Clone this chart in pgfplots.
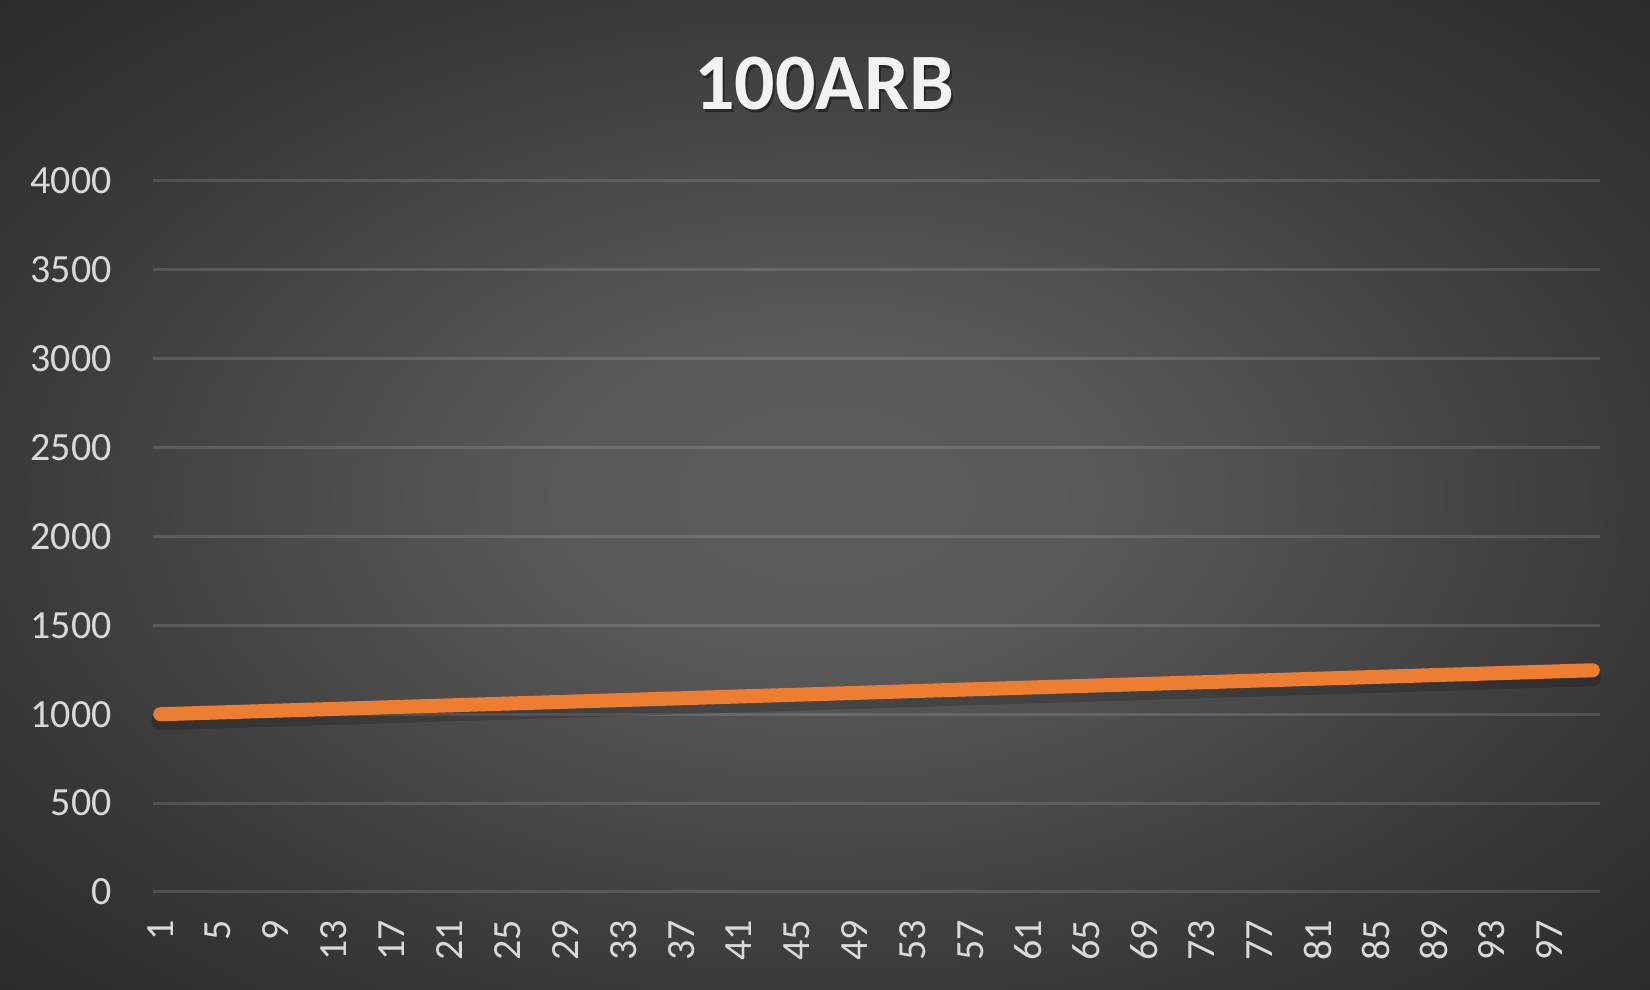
\documentclass[border=0pt]{standalone}
\usepackage{fontspec}
\setmainfont{Carlito}
\usepackage{pgfplots}
\usepackage{pgfplotstable}
\pgfplotsset{compat=1.18}

\definecolor{bgmid}{RGB}{92,92,92}
\definecolor{bgedge}{RGB}{58,58,58}
\definecolor{bgcorner}{RGB}{42,42,42}
\definecolor{lbl}{RGB}{217,217,217}
\definecolor{ttl}{RGB}{242,242,242}
\definecolor{arb}{RGB}{237,125,49}

\pgfdeclareradialshading{chartbg}{\pgfpoint{0bp}{0bp}}{color(0bp)=(bgmid); color(8bp)=(bgmid!92!bgedge); color(25bp)=(bgedge); color(36bp)=(bgcorner); color(50bp)=(bgcorner)}

% day, value
\pgfplotstableread[row sep=\\]{
x y \\
1 1000 \\ 2 1002.5 \\ 3 1005 \\ 4 1007.5 \\ 5 1010 \\ 6 1012.5 \\ 7 1015 \\ 8 1017.5 \\ 9 1020 \\ 10 1022.5 \\
11 1025 \\ 12 1027.5 \\ 13 1030 \\ 14 1032.5 \\ 15 1035 \\ 16 1037.5 \\ 17 1040 \\ 18 1042.5 \\ 19 1045 \\ 20 1047.5 \\
21 1050 \\ 22 1052.5 \\ 23 1055 \\ 24 1057.5 \\ 25 1060 \\ 26 1062.5 \\ 27 1065 \\ 28 1067.5 \\ 29 1070 \\ 30 1072.5 \\
31 1075 \\ 32 1077.5 \\ 33 1080 \\ 34 1082.5 \\ 35 1085 \\ 36 1087.5 \\ 37 1090 \\ 38 1092.5 \\ 39 1095 \\ 40 1097.5 \\
41 1100 \\ 42 1102.5 \\ 43 1105 \\ 44 1107.5 \\ 45 1110 \\ 46 1112.5 \\ 47 1115 \\ 48 1117.5 \\ 49 1120 \\ 50 1122.5 \\
51 1125 \\ 52 1127.5 \\ 53 1130 \\ 54 1132.5 \\ 55 1135 \\ 56 1137.5 \\ 57 1140 \\ 58 1142.5 \\ 59 1145 \\ 60 1147.5 \\
61 1150 \\ 62 1152.5 \\ 63 1155 \\ 64 1157.5 \\ 65 1160 \\ 66 1162.5 \\ 67 1165 \\ 68 1167.5 \\ 69 1170 \\ 70 1172.5 \\
71 1175 \\ 72 1177.5 \\ 73 1180 \\ 74 1182.5 \\ 75 1185 \\ 76 1187.5 \\ 77 1190 \\ 78 1192.5 \\ 79 1195 \\ 80 1197.5 \\
81 1200 \\ 82 1202.5 \\ 83 1205 \\ 84 1207.5 \\ 85 1210 \\ 86 1212.5 \\ 87 1215 \\ 88 1217.5 \\ 89 1220 \\ 90 1222.5 \\
91 1225 \\ 92 1227.5 \\ 93 1230 \\ 94 1232.5 \\ 95 1235 \\ 96 1237.5 \\ 97 1240 \\ 98 1242.5 \\ 99 1245 \\ 100 1247.5 \\
}\arbdata

\begin{document}
\begin{tikzpicture}
\shade[shading=chartbg] (0,0) rectangle (825bp,495bp);
\useasboundingbox (0,0) rectangle (825bp,495bp);

% title with a soft shadow
\node[anchor=base, inner sep=0pt, text=black, opacity=0.4,
      font=\fontsize{40bp}{48bp}\selectfont\bfseries] at (413bp,438.8bp) {100ARB};
\node[anchor=base, inner sep=0pt, text=ttl,
      font=\fontsize{40bp}{48bp}\selectfont\bfseries] at (412bp,440bp) {100ARB};

\begin{axis}[
    at={(76.5bp,49bp)}, anchor=south west,
    scale only axis,
    width=723.5bp, height=355.5bp,
    xmin=0.5, xmax=100.5,
    ymin=0, ymax=4000,
    ytick={0,500,...,4000},
    xtick={1,5,...,97},
    ymajorgrids,
    major grid style={white, opacity=0.13, line width=1.5bp},
    axis line style={draw=none},
    major tick length=0pt,
    tick label style={font=\fontsize{20bp}{24bp}\selectfont, text=lbl,
        /pgf/number format/assume math mode=true},
    /pgf/number format/1000 sep={},
    yticklabel style={anchor=east, inner sep=0pt, xshift=-20.5bp},
    xticklabel style={yshift=-14bp, rotate=90, anchor=east, inner sep=0pt},
    clip=false,
]
\addplot[black, opacity=0.18, line width=9bp, line cap=round, line join=round,
         transform canvas={yshift=-3.5bp}] table[x=x, y=y] {\arbdata};
\addplot[arb, line width=7bp, line cap=round, line join=round] table[x=x, y=y] {\arbdata};
\end{axis}
\end{tikzpicture}
\end{document}
